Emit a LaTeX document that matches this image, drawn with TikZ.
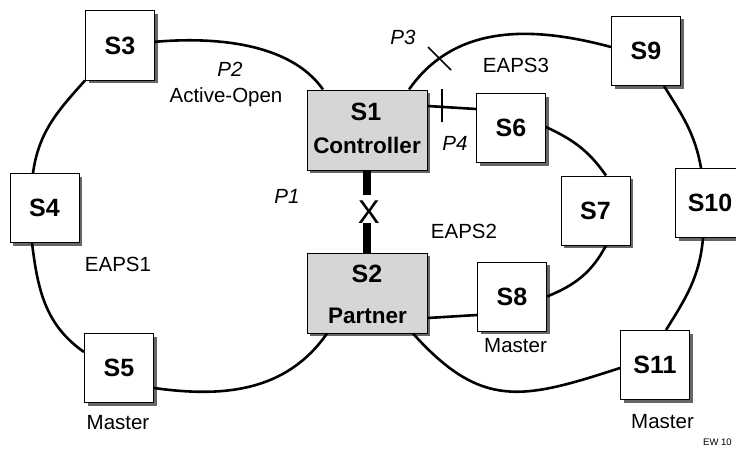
\documentclass[tikz,border=0pt]{standalone}
\usepackage{fontspec}
\setmainfont{Liberation Sans}
\usetikzlibrary{shadows}
\tikzset{
  sw/.style={draw=black, line width=1pt, fill=white, minimum width=69pt, minimum height=69pt,
    inner sep=0pt, font=\fontsize{25}{30}\selectfont\bfseries,
    drop shadow={shadow xshift=3pt, shadow yshift=-3pt, fill=black!60, opacity=1}},
  core/.style={sw, fill=black!16, minimum width=120pt, minimum height=80pt},
  boxlbl/.style={font=\fontsize{25}{30}\selectfont\bfseries, anchor=base, inner sep=0pt},
  corelbl/.style={font=\fontsize{22.5}{27}\selectfont\bfseries, anchor=base, inner sep=0pt},
  ring/.style={line width=2.6pt},
  lbl/.style={font=\fontsize{20.5}{24}\selectfont, anchor=base, inner sep=0pt},
  plbl/.style={lbl, font=\fontsize{20.5}{24}\selectfont\itshape},
  tickmark/.style={line width=1.5pt},
  plink/.style={line width=8pt}
}
\begin{document}
\begin{tikzpicture}[x=1pt,y=-1pt]
\useasboundingbox (0,0) rectangle (736,452);
\clip (0,0) rectangle (736,452);

% switches
\node[sw] (S3) at (120,45.5) {S3};
\node[sw] (S4) at (44.5,208) {S4};
\node[sw] (S5) at (119,368) {S5};
\node[core] (S1) at (367,130) {};
\node[core] (S2) at (367,293) {};
\node[sw] (S6) at (511,128) {S6};
\node[sw] (S7) at (595.5,210.5) {S7};
\node[sw] (S8) at (512,296.5) {S8};
\node[sw] (S9) at (646,51) {S9};
\node[sw] (S10) at (710,203) {S10};
\node[sw] (S11) at (655,365) {S11};

\node[boxlbl] (S1a) at (366,120) {S1};
\node[corelbl] (S1b) at (367,153) {Controller};
\node[boxlbl] (S2a) at (367,282) {S2};
\node[corelbl] (S2b) at (367.5,323) {Partner};

% EAPS1
\draw[ring] (S3.6) to[out=5,in=125,looseness=0.85] ([xshift=-44pt]S1.north);
\draw[ring] (S3.south west) to[out=228,in=82] ([xshift=-11.5pt]S4.north);
\draw[ring] ([xshift=-12.5pt]S4.south) to[out=-83,in=145] ([yshift=16pt]S5.west);
\draw[ring] ([yshift=-20pt]S5.east) to[out=-8,in=235] ([xshift=-40pt]S2.south);

% EAPS3
\draw[ring] ([xshift=42pt]S1.north) to[out=55,in=165] ([yshift=4pt]S9.west);
\draw[ring] ([xshift=18pt]S9.south) to[out=-58,in=100] ([xshift=-9pt]S10.north);
\draw[ring] ([xshift=-7pt]S10.south) to[out=-95,in=58] ([xshift=11pt]S11.north);
\draw[ring] ([yshift=-3pt]S11.west) to[out=198,in=-48,looseness=1.25] ([xshift=46pt]S2.south);

% EAPS2
\draw[ring] ([yshift=24pt]S1.east) -- ([yshift=19pt]S6.west);
\draw[ring] ([yshift=1pt]S6.east) to[out=-25,in=125] ([xshift=10.5pt]S7.north);
\draw[ring] ([xshift=10.5pt]S7.south) to[out=-118,in=22] (S8.east);
\draw[ring] ([yshift=-18.5pt]S8.west) -- ([yshift=-25pt]S2.east);

% P1 link
\node[font=\fontsize{33}{36}\selectfont, inner sep=0pt, anchor=base] (X) at (369,223) {X};
\draw[plink] (S1.south) -- ([yshift=5pt]S1.south |- X.north);
\draw[plink] (S2.north |- X.south) -- (S2.north);

% blocked-port ticks
\coordinate (p3a) at (428,47);
\coordinate (p3b) at (451,70);
\draw[tickmark] (p3a) -- (p3b);
\coordinate (p4a) at (442,89);
\coordinate (p4b) at (442,122);
\draw[tickmark] (p4a) -- (p4b);

% labels
\node[plbl] (P2) at (230,77) {P2};
\node[lbl] (AO) at (226,102) {Active-Open};
\node[plbl] (P1) at (287,203) {P1};
\node[plbl] (P3) at (403,45) {P3};
\node[lbl] (E3) at (516,72) {EAPS3};
\node[plbl] (P4) at (455,150) {P4};
\node[lbl] (E2) at (464,238) {EAPS2};
\node[lbl] (E1) at (118,271) {EAPS1};
\node[lbl] (M5) at (118,429) {Master};
\node[lbl] (M8) at (515.5,352) {Master};
\node[lbl] (M11) at (662.5,428) {Master};
\node[font=\fontsize{9.5}{10}\selectfont, anchor=base west, inner sep=0pt] (EW) at (703,445) {EW 10};
\end{tikzpicture}
\end{document}
